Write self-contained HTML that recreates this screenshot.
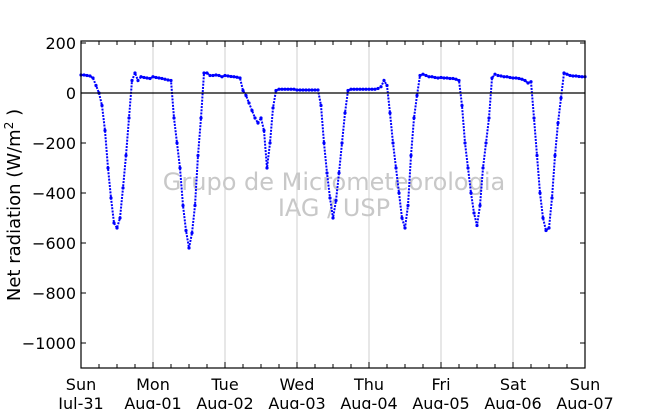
<!DOCTYPE html>
<html><head><meta charset="utf-8"><style>
body{margin:0;background:#fff;}
svg text{font-family:"DejaVu Sans","Liberation Sans",sans-serif;}
</style></head><body>
<svg id="chart" width="650" height="409" viewBox="0 0 650 409" xmlns="http://www.w3.org/2000/svg">
<rect x="0" y="0" width="650" height="409" fill="#fff"/>
<g id="grid"></g>
<text x="334" y="190" font-size="24" fill="#c8c8c8" text-anchor="middle">Grupo de Micrometeorologia</text>
<text x="334" y="216" font-size="24" fill="#c8c8c8" text-anchor="middle">IAG / USP</text>
<g id="marks"></g>
<g id="axes"></g>
<text transform="translate(20,205) rotate(-90)" font-size="18" text-anchor="middle">Net radiation (W/m<tspan font-size="12" dy="-7">2</tspan><tspan dy="7"> )</tspan></text>
</svg>
<script>
const dayNames = ["Sun","Mon","Tue","Wed","Thu","Fri","Sat","Sun"];
const dayDates = ["Jul-31","Aug-01","Aug-02","Aug-03","Aug-04","Aug-05","Aug-06","Aug-07"];
const yTicks = [200,0,-200,-400,-600,-800,-1000];
// hourly net radiation (W/m2), 7 days x 24 h + final
const day1 = [72,72,70,68,60,30,0,-50,-150,-300,-420,-520,-540,-500,-380,-250,-100,50,80,50,65,62,60,58];
const day2 = [65,62,60,58,55,52,50,-100,-200,-300,-450,-550,-620,-560,-450,-250,-100,80,80,70,70,72,70,65];
const day3 = [70,68,66,65,63,60,10,-10,-40,-70,-100,-120,-100,-150,-300,-200,-60,10,15,15,15,15,15,15];
const day4 = [12,12,12,12,12,12,12,12,-50,-200,-320,-420,-500,-430,-320,-200,-80,10,15,15,15,15,15,15];
const day5 = [15,15,15,18,25,50,30,-80,-200,-300,-400,-500,-540,-450,-250,-100,-10,70,75,70,65,65,62,60];
const day6 = [62,60,60,58,58,55,50,-50,-200,-300,-400,-480,-530,-450,-300,-200,-100,60,75,70,68,65,65,62];
const day7 = [60,60,58,55,50,40,45,-100,-250,-400,-500,-550,-540,-420,-250,-120,-20,80,75,70,68,68,66,65];
const lastValue = [65];
const values = [].concat(day1,day2,day3,day4,day5,day6,day7,lastValue);

const X0=81,X1=585,Y0=41,Y1=368, YMAX=208, YMIN=-1100, HOURS=168;
const xs = h => X0 + (X1-X0)*h/HOURS;
const ys = v => Y0 + (Y1-Y0)*(YMAX-v)/(YMAX-YMIN);
const NS="http://www.w3.org/2000/svg";
function mk(tag, attrs, parent){const e=document.createElementNS(NS,tag);for(const k in attrs)e.setAttribute(k,attrs[k]);parent.appendChild(e);return e;}
const grid=document.getElementById('grid'), marks=document.getElementById('marks'), axes=document.getElementById('axes');
for(let d=1; d<7; d++){
  const g=mk('line',{x1:xs(d*24),x2:xs(d*24),y1:Y0,y2:Y1,stroke:'#cfcfcf','stroke-width':1},grid);
  
  
}
const z=mk('line',{x1:X0,x2:X1,y1:ys(0),y2:ys(0),stroke:'#000','stroke-width':1.2},axes);


const pts=values.map((v,i)=>xs(i).toFixed(1)+','+ys(v).toFixed(1)).join(' ');
const pl=mk('polyline',{points:pts,fill:'none',stroke:'#0000ff','stroke-width':2,'stroke-dasharray':'2 1.2'},marks);


values.forEach((v,i)=>{
  const c=mk('circle',{cx:xs(i),cy:ys(v),r:1.6,fill:'#0000ff'},marks);
  
  
});
const fr=mk('rect',{x:X0,y:Y0,width:X1-X0,height:Y1-Y0,fill:'none',stroke:'#000','stroke-width':1.2},axes);


yTicks.forEach(t=>{
  const y=ys(t);
  mk('line',{x1:X0,x2:X0+5,y1:y,y2:y,stroke:'#000'},axes);
  mk('line',{x1:X1,x2:X1-5,y1:y,y2:y,stroke:'#000'},axes);
  const tx=mk('text',{x:76,y:y+6,'font-size':16,'text-anchor':'end'},axes);
  tx.textContent=(t<0?'\u2212'+(-t):String(t));
  
  
});
for(let h=0; h<=HOURS; h+=6){
  const x=xs(h), L=(h%24===0)?6:4;
  mk('line',{x1:x,x2:x,y1:Y1,y2:Y1-L,stroke:'#000'},axes);
  mk('line',{x1:x,x2:x,y1:Y0,y2:Y0+L,stroke:'#000'},axes);
}
dayNames.forEach((n,i)=>{
  const x=xs(i*24);
  const a=mk('text',{x:x,y:390,'font-size':16,'text-anchor':'middle'},axes);
  a.textContent=n;
  
  
  const b=mk('text',{x:x,y:409,'font-size':16,'text-anchor':'middle'},axes);
  b.textContent=dayDates[i];
  
  
});
</script>
</body></html>
